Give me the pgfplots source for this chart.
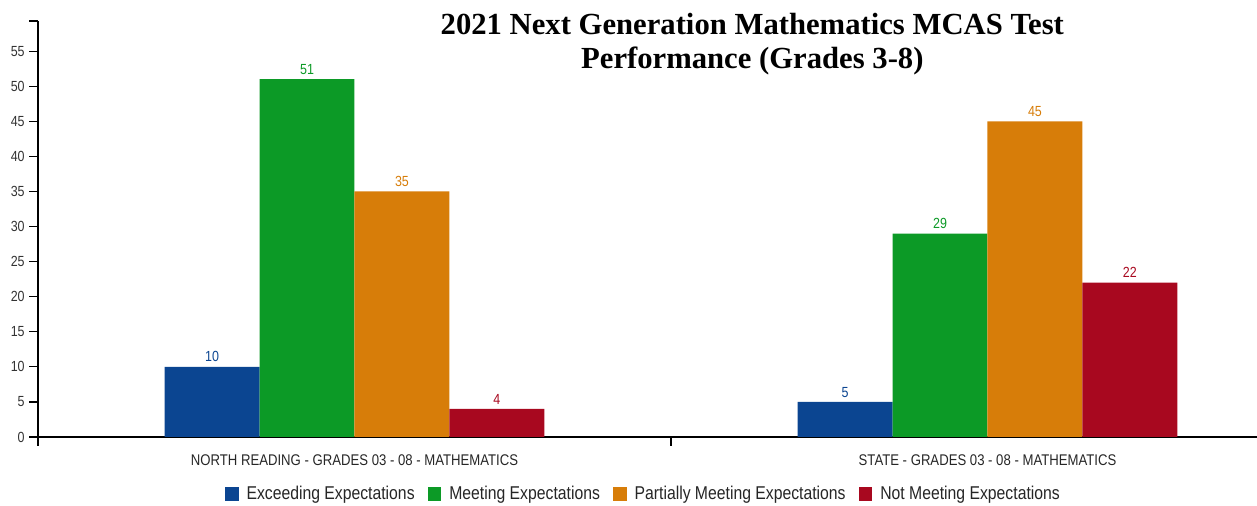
\documentclass[border=0pt]{standalone}
\usepackage{fontspec}
\setmainfont{Liberation Sans}
\newfontfamily\narrowfont[FakeStretch=0.85]{Liberation Sans}
\newfontfamily\titlefont{Liberation Serif}
\usepackage{pgfplots}
\pgfplotsset{compat=1.18}

\definecolor{cexc}{HTML}{0B4591}
\definecolor{cmeet}{HTML}{0C9A26}
\definecolor{cpart}{HTML}{D77D09}
\definecolor{cnot}{HTML}{A8081F}

\begin{document}
\begin{tikzpicture}
\begin{axis}[
  at={(0pt,0pt)}, anchor=south west,
  scale only axis, width=914.25pt, height=312pt,
  xmin=-0.5, xmax=1.4258, ymin=0, ymax=59.3,
  axis x line*=bottom, axis y line*=left,
  axis line style={line width=0.9pt, black},
  ybar, bar width=0.15,
  ytick={0,5,...,55},
  extra y ticks={59.3}, extra y tick labels={},
  xtick={-0.5,0.5}, xticklabels={,},
  extra x ticks={0,1},
  extra x tick labels={NORTH READING - GRADES 03 - 08 - MATHEMATICS, STATE - GRADES 03 - 08 - MATHEMATICS},
  extra x tick style={major tick length=0pt, xticklabel style={yshift=-9.5pt}},
  tick align=outside, major tick length=6.5pt,
  tick style={black, line width=0.9pt},
  /pgf/number format/assume math mode=true,
  yticklabel style={font=\narrowfont\fontsize{11}{12}\selectfont, text=black!80},
  xticklabel style={font=\narrowfont\fontsize{11.6}{13}\selectfont, text=black!85},
  title={2021 Next Generation Mathematics MCAS Test\\Performance (Grades 3-8)},
  title style={at={(0.586,1.031)}, anchor=north, align=center, yshift=-6pt,
    font=\titlefont\bfseries\fontsize{23}{25.5}\selectfont},
  nodes near coords,
  every node near coord/.append style={font=\narrowfont\fontsize{11}{12}\selectfont},
  legend columns=-1,
  legend style={draw=none, at={(0.497,-0.137)}, anchor=center,
    font=\narrowfont\fontsize{13.9}{15}\selectfont, text=black!85,
    /tikz/every odd column/.append style={column sep=4pt},
    /tikz/every even column/.append style={column sep=8pt}},
  legend image code/.code={\fill[#1] (0pt,-5.6pt) rectangle (10pt,5.6pt);},
]
\addplot[fill=cexc, draw=none, bar shift=-0.225,
  every node near coord/.append style={text=cexc}] coordinates {(0,10) (1,5)};
\addplot[fill=cmeet, draw=none, bar shift=-0.075,
  every node near coord/.append style={text=cmeet}] coordinates {(0,51) (1,29)};
\addplot[fill=cpart, draw=none, bar shift=0.075,
  every node near coord/.append style={text=cpart}] coordinates {(0,35) (1,45)};
\addplot[fill=cnot, draw=none, bar shift=0.225,
  every node near coord/.append style={text=cnot}] coordinates {(0,4) (1,22)};
\legend{Exceeding Expectations, Meeting Expectations, Partially Meeting Expectations, Not Meeting Expectations}
\end{axis}
\pgfresetboundingbox
\path (-28.5pt,-51.75pt) rectangle (914.25pt,327.75pt);
\end{tikzpicture}
\end{document}
